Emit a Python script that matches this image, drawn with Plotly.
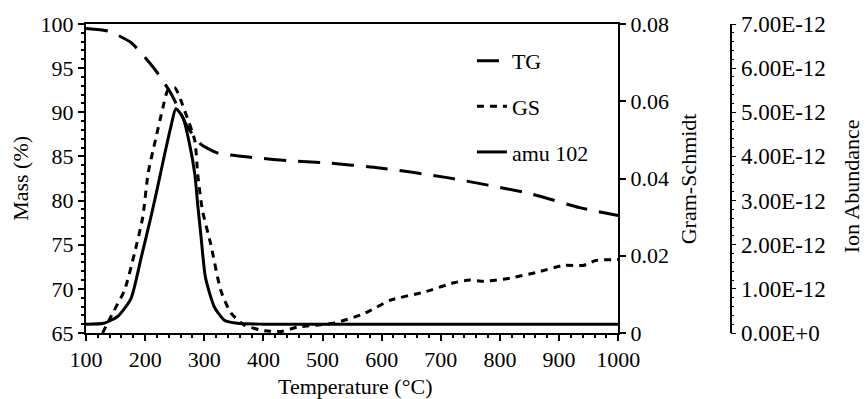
import plotly.graph_objects as go

# ---- data ----
temp_tg = [100, 137, 176, 216, 244, 258, 272, 294, 322, 378, 446, 500, 597, 711, 850, 935, 1000]
mass_tg = [99.5, 99.2, 97.9, 94.9, 92.1, 90.2, 88.3, 86.4, 85.4, 84.9, 84.5, 84.3, 83.7, 82.6, 80.8, 79.2, 78.3]

temp_gs = [128, 146, 165, 182, 196, 205, 216, 230, 238, 250, 267, 284, 289, 297, 311, 328, 345,
           368, 402, 430, 457, 520, 570, 615, 672, 722, 749, 773, 817, 862, 908, 941, 963, 1000]
gs_vals = [0.0, 0.0054, 0.011, 0.0206, 0.030, 0.0413, 0.049, 0.0583, 0.0627, 0.0635, 0.0575, 0.0498,
           0.041, 0.0317, 0.023, 0.011, 0.0052, 0.002, 0.0006, 0.0004, 0.0015, 0.0026, 0.005, 0.0085,
           0.0106, 0.013, 0.0137, 0.0134, 0.0142, 0.0157, 0.0175, 0.0175, 0.0188, 0.019]

temp_ms = [100, 130, 154, 176, 193, 210, 221, 233, 244, 252, 264, 275, 284, 289, 294, 302, 317, 334, 356, 400, 1000]
ms_vals = [v * 1e-12 for v in [0.2, 0.22, 0.38, 0.78, 1.69, 2.64, 3.3, 4.05, 4.7, 5.08, 4.88, 4.29,
                                3.6, 2.9, 2.26, 1.26, 0.59, 0.29, 0.22, 0.2, 0.2]]

ion_ticks = [0, 1e-12, 2e-12, 3e-12, 4e-12, 5e-12, 6e-12, 7e-12]
ion_labels = ["0.00E+0", "1.00E-12", "2.00E-12", "3.00E-12", "4.00E-12", "5.00E-12", "6.00E-12", "7.00E-12"]

FONT = "'Liberation Serif', 'Times New Roman', serif"
TICK_SIZE = 22
ION_TICK_SIZE = 23
TITLE_SIZE = 22
W, H = 867, 399
ML, MR, MT, MB = 86, 30, 23, 66
PW = W - ML - MR
PH = H - MT - MB


def px_x(p):
    return (p - ML) / PW


def px_y(p):
    return (H - MB - p) / PH


fig = go.Figure()
fig.add_trace(go.Scatter(x=temp_tg, y=mass_tg, name="TG", mode="lines", legendgroup="a",
                         line=dict(color="black", width=3, dash="22px,12px", shape="spline", smoothing=0.6),
                         yaxis="y"))
fig.add_trace(go.Scatter(x=temp_gs, y=gs_vals, name="GS", mode="lines", legendgroup="b",
                         line=dict(color="black", width=3, dash="7px,6px", shape="spline", smoothing=0.6),
                         yaxis="y2"))
fig.add_trace(go.Scatter(x=temp_ms, y=ms_vals, name="amu 102", mode="lines", legendgroup="c",
                         line=dict(color="black", width=3, shape="spline", smoothing=0.6),
                         yaxis="y3"))

axis_font = dict(family=FONT, size=TICK_SIZE, color="black")
ion_font = dict(family=FONT, size=ION_TICK_SIZE, color="black")
title_font = dict(family=FONT, size=TITLE_SIZE, color="black")

fig.update_layout(
    width=W, height=H,
    margin=dict(l=ML, r=MR, t=MT, b=MB),
    paper_bgcolor="white", plot_bgcolor="white",
    font=dict(family=FONT, size=TICK_SIZE, color="black"),
    showlegend=True,
    legend=dict(x=px_x(474), y=px_y(39), xanchor="left", yanchor="top",
                bgcolor="rgba(0,0,0,0)", font=dict(family=FONT, size=TICK_SIZE, color="black"),
                tracegroupgap=14),
    xaxis=dict(domain=[0, px_x(621)], range=[100, 1000], dtick=100, showgrid=False, zeroline=False,
               showline=True, linecolor="black", linewidth=2, mirror=True,
               ticks="outside", ticklen=6, tickwidth=1.5, tickcolor="black", tickfont=axis_font,
               minor=dict(dtick=20, ticks="outside", ticklen=3, tickcolor="black")),
    yaxis=dict(range=[65, 100], dtick=5, showgrid=False, zeroline=False,
               showline=True, linecolor="black", linewidth=2,
               ticks="outside", ticklen=6, tickwidth=1.5, tickcolor="black", tickfont=axis_font,
               minor=dict(dtick=1, ticks="outside", ticklen=3, tickcolor="black")),
    yaxis2=dict(range=[0, 0.08], dtick=0.02, overlaying="y", side="right", anchor="x",
                showgrid=False, zeroline=False, showline=True, linecolor="black", linewidth=2,
                ticks="outside", ticklen=6, tickwidth=1.5, tickcolor="black", tickfont=axis_font),
    yaxis3=dict(range=[0, 7e-12], overlaying="y", side="right", anchor="free", position=px_x(734),
                tickvals=ion_ticks, ticktext=ion_labels,
                showgrid=False, zeroline=False, showline=True, linecolor="black", linewidth=1.5,
                ticks="outside", ticklen=5, tickwidth=1.2, tickcolor="black", tickfont=ion_font,
                minor=dict(dtick=0.2e-12, ticks="outside", ticklen=3, tickcolor="black")),
    annotations=[
        dict(text="Mass (%)", x=px_x(20), y=0.5, xref="paper", yref="paper", textangle=-90,
             showarrow=False, xanchor="center", yanchor="middle", font=title_font),
        dict(text="Gram-Schmidt", x=px_x(692), y=0.5, xref="paper", yref="paper", textangle=-90,
             showarrow=False, xanchor="center", yanchor="middle", font=title_font),
        dict(text="Ion Abundance", x=px_x(856), y=px_y(186), xref="paper", yref="paper", textangle=-90,
             showarrow=False, xanchor="center", yanchor="middle", font=title_font),
        dict(text="Temperature (°C)", x=px_x(356), y=px_y(387), xref="paper", yref="paper",
             showarrow=False, xanchor="center", yanchor="middle", font=title_font),
    ],
)

fig.write_html("out.html")
